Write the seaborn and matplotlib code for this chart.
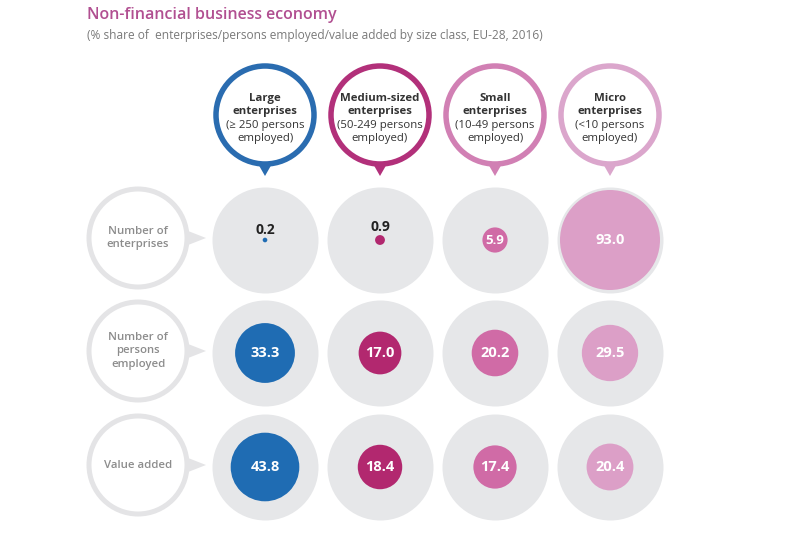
import numpy as np
import pandas as pd
import seaborn as sns
import matplotlib.pyplot as plt
from matplotlib.patches import Circle, Polygon

# ---------------- data ----------------
size_classes = ["Large", "Medium-sized", "Small", "Micro"]
size_desc = ["(≥ 250 persons", "(50-249 persons", "(10-49 persons", "(<10 persons"]
indicators = ["Number of\nenterprises", "Number of\npersons\nemployed", "Value added"]
enterprises = [0.2, 0.9, 5.9, 93.0]
persons_employed = [33.3, 17.0, 20.2, 29.5]
value_added = [43.8, 18.4, 17.4, 20.4]

title = "Non-financial business economy"
subtitle = "(% share of  enterprises/persons employed/value added by size class, EU-28, 2016)"

fill_colors = ["#1f6cb3", "#b2286f", "#d06ba6", "#dc9fc7"]
ring_colors = ["#2a6cb0", "#b2307a", "#d180b4", "#dba6cc"]

# ---------------- layout ----------------
W, H = 799, 533
col_x = [265, 380, 495, 610]
row_y = [240, 353, 467]
header_y = 115
label_x = 138
PX = 0.72  # points per pixel at 100 dpi

sns.set_theme(style="white")
plt.rcParams['font.family'] = ['Open Sans', 'DejaVu Sans']

rows = []
for j, (ind, vals) in enumerate(zip(indicators, [enterprises, persons_employed, value_added])):
    for i, (sc, v) in enumerate(zip(size_classes, vals)):
        rows.append(dict(indicator=ind, size_class=sc, value=v,
                         x=col_x[i], y=row_y[j]))
df = pd.DataFrame(rows)

fig = plt.figure(figsize=(W / 100, H / 100), dpi=100)
ax = fig.add_axes([0, 0, 1, 1])
ax.set_xlim(0, W)
ax.set_ylim(H, 0)
ax.set_aspect("equal")
ax.axis("off")

# grey background discs
bg_r = 53
sns.scatterplot(data=df, x="x", y="y", s=(2 * bg_r * PX) ** 2, color="#e6e7e9",
                linewidth=0, ax=ax, legend=False, zorder=1)

# value discs, area proportional to value
r_max = 50
sns.scatterplot(data=df, x="x", y="y", hue="size_class", palette=dict(zip(size_classes, fill_colors)),
                size="value", size_norm=(0, 93.0), sizes=(0, (2 * r_max * PX) ** 2),
                linewidth=0, ax=ax, legend=False, zorder=2)

for _, r in df.iterrows():
    rad = r_max * np.sqrt(r["value"] / 93.0)
    if rad < 8:
        ax.text(r["x"], r["y"] - rad - 8, f"{r['value']:.1f}", ha="center", va="center",
                fontsize=10, fontweight="bold", color="#222222", zorder=3)
    else:
        fs = 10.5 if rad > 15 else 9.5
        ax.text(r["x"], r["y"], f"{r['value']:.1f}", ha="center", va="center",
                fontsize=fs, fontweight="bold", color="white", zorder=3)

# header bubbles
hr = 49
line_dy = [-14, -1, 13, 26]
for i, sc in enumerate(size_classes):
    cx = col_x[i]
    ring = ring_colors[i]
    ax.add_patch(Polygon([[cx - 8, header_y + hr - 2], [cx + 8, header_y + hr - 2],
                          [cx, header_y + hr + 12]], closed=True, facecolor=ring,
                         edgecolor="none", zorder=2))
    ax.add_patch(Circle((cx, header_y), hr, facecolor="white", edgecolor=ring,
                        linewidth=5.5 * PX, zorder=3))
    lines = [(sc, "bold"), ("enterprises", "bold"), (size_desc[i], "normal"), ("employed)", "normal")]
    for (txt, wt), dy in zip(lines, line_dy):
        ax.text(cx, header_y + dy, txt, ha="center", va="baseline",
                fontsize=8.2, fontweight=wt, color="#333333", zorder=4)

# row label bubbles
lr = 49
for j, ind in enumerate(indicators):
    cy = row_y[j] - 2
    ax.add_patch(Polygon([[label_x + lr - 4, cy - 9], [label_x + lr - 4, cy + 9],
                          [label_x + lr + 19, cy]], closed=True, facecolor="#e4e4e6",
                         edgecolor="none", zorder=2))
    ax.add_patch(Circle((label_x, cy), lr, facecolor="white", edgecolor="#e4e4e6",
                        linewidth=5 * PX, zorder=3))
    ax.text(label_x, cy, ind, ha="center", va="center", fontsize=8.2,
            fontweight="semibold", color="#8c8c8c", linespacing=1.25, zorder=4)

# titles
ax.text(87, 15, title, ha="left", va="center", fontsize=11.5, fontweight="semibold",
        color="#b14f91")
ax.text(87, 36, subtitle, ha="left", va="center", fontsize=8.6, color="#7a7a7a")

fig.savefig("out.png", dpi=100, facecolor="white")
